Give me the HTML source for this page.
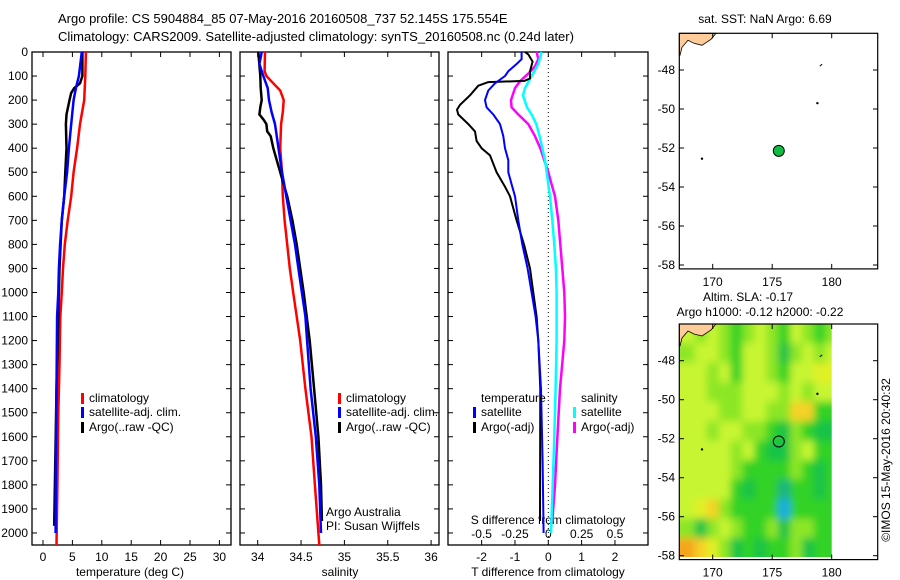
<!DOCTYPE html>
<html><head><meta charset="utf-8"><style>
body{margin:0;background:#fff}
svg{display:block;font-family:"Liberation Sans",sans-serif;font-size:12px}
</style></head><body>
<svg id="s" width="900" height="580" viewBox="0 0 900 580">
<defs>
<filter id="blur" x="-5%" y="-5%" width="110%" height="110%"><feGaussianBlur stdDeviation="4"/></filter>
<clipPath id="slaclip"><rect x="679.3" y="324" width="152.4" height="233"/></clipPath>
</defs>
<text x="58" y="23" font-size="13">Argo profile: CS 5904884_85 07-May-2016 20160508_737 52.145S 175.554E</text>
<text x="58" y="41" font-size="13">Climatology: CARS2009. Satellite-adjusted climatology: synTS_20160508.nc (0.24d later)</text>
<text x="130" y="576" text-anchor="middle">temperature (deg C)</text>
<text x="340" y="576" text-anchor="middle">salinity</text>
<text x="548" y="576" text-anchor="middle">T difference from climatology</text>
<text x="548" y="524" text-anchor="middle">S difference from climatology</text>
<text x="326" y="516">Argo Australia</text>
<text x="326" y="530">PI: Susan Wijffels</text>
<text x="765" y="23" text-anchor="middle">sat. SST: NaN Argo: 6.69</text>
<text x="748" y="301" text-anchor="middle">Altim. SLA: -0.17</text>
<text x="760" y="316" text-anchor="middle">Argo h1000: -0.12 h2000: -0.22</text>
<text transform="translate(890,460) rotate(-90)" text-anchor="middle">©IMOS 15-May-2016 20:40:32</text>
</svg>
<script>
const NS="http://www.w3.org/2000/svg";
const svg=document.getElementById('s');
// ---- data ----
const depthTicks=[0,100,200,300,400,500,600,700,800,900,1000,1100,1200,1300,1400,1500,1600,1700,1800,1900,2000];
const tempTicks=[0,5,10,15,20,25,30];
const salTicks=[34,34.5,35,35.5,36];
const salTickLabels=["34","34.5","35","35.5","36"];
const tdTicks=[-2,-1,0,1,2];
const sdTicks=[-0.5,-0.25,0,0.25,0.5];
const sdTickLabels=["-0.5","-0.25","0","0.25","0.5"];
const clDepth=[0,100,200,300,400,500,600,700,800,900,1000,1100,1300,1500,1800,2050];
const clTemp=[7.3,7.2,7.0,6.3,5.8,5.2,4.8,4.2,3.7,3.4,3.2,2.95,2.8,2.6,2.45,2.3];
const satDepth=[0,100,150,200,300,400,500,600,700,800,900,1000,1100,1400,1700,2000];
const satTemp=[6.6,6.1,5.6,5.2,4.8,4.4,4.1,3.6,3.2,2.9,2.7,2.6,2.4,2.3,2.2,2.15];
const argoDepth=[0,100,130,150,170,200,260,300,400,500,600,700,800,900,1000,1400,1970];
const argoTemp=[6.7,6.7,6.3,5.3,4.8,4.5,4.0,3.9,4.0,3.8,3.6,3.2,3.0,2.8,2.7,2.3,1.9];
const clSDepth=[0,80,100,130,160,200,250,300,400,500,600,700,800,900,1000,1100,1200,1400,1600,1800,2050];
const clSal=[34.084,34.08,34.10,34.18,34.26,34.30,34.29,34.27,34.26,34.28,34.29,34.31,34.34,34.37,34.41,34.45,34.49,34.55,34.62,34.66,34.71];
const satSDepth=[0,50,100,150,200,250,300,400,500,600,700,800,900,1000,1100,1200,1400,1600,1800,2000];
const satSal=[34.046,34.02,34.065,34.115,34.13,34.16,34.20,34.24,34.28,34.33,34.38,34.43,34.47,34.51,34.55,34.57,34.61,34.67,34.71,34.73];
const argoSDepth=[0,100,150,200,230,260,280,300,330,350,400,500,550,600,700,800,900,1000,1100,1200,1400,1600,1800,1950];
const argoSal=[34.007,34.03,34.035,34.046,34.03,34.02,34.065,34.10,34.11,34.15,34.18,34.26,34.30,34.34,34.40,34.45,34.49,34.53,34.565,34.60,34.65,34.70,34.73,34.74];
const tdSatDepth=[0,30,50,80,100,130,160,200,230,260,300,350,400,450,500,550,600,700,800,900,1000,1100,1200,1400,1700,2000];
const tdSat=[-0.8,-0.8,-0.95,-1.2,-1.3,-1.6,-1.8,-1.9,-1.85,-1.65,-1.45,-1.35,-1.3,-1.2,-1.2,-1.1,-1.0,-0.9,-0.78,-0.62,-0.5,-0.38,-0.3,-0.22,-0.17,-0.14];
const tdArgoDepth=[0,10,40,80,110,120,125,140,180,220,240,260,300,330,370,400,430,500,560,600,700,800,900,1000,1100,1200,1400,1950];
const tdArgo=[-0.7,-0.6,-0.47,-0.55,-0.55,-0.72,-1.8,-2.1,-2.35,-2.65,-2.74,-2.7,-2.4,-2.2,-2.15,-2.0,-1.75,-1.55,-1.3,-1.15,-0.95,-0.73,-0.55,-0.45,-0.35,-0.3,-0.24,-0.25];
const sdSatDepth=[0,50,100,150,180,230,260,300,350,400,450,500,550,600,700,800,900,1000,1200,1400,1600,1800,2000];
const sdSat=[-0.05,-0.075,-0.125,-0.175,-0.19,-0.16,-0.125,-0.09,-0.065,-0.045,-0.025,-0.012,0,0.013,0.03,0.045,0.057,0.062,0.062,0.055,0.045,0.033,0.02];
const sdArgoDepth=[0,30,60,90,120,150,200,230,260,300,350,400,450,500,550,600,700,800,900,1000,1100,1200,1400,1600,1800,1950];
const sdArgo=[-0.087,-0.075,-0.1,-0.15,-0.21,-0.25,-0.28,-0.275,-0.225,-0.15,-0.1,-0.06,-0.03,0,0.025,0.05,0.075,0.09,0.105,0.12,0.125,0.12,0.088,0.068,0.05,0.03];
const latTicks=[-48,-50,-52,-54,-56,-58];
const lonTicks=[170,175,180];
const argoLon=175.554, argoLat=-52.145;
const slaLon0=167.5, slaLat0=-46.1;
const slaRows=[
[-0.05,-0.1,-0.05,-0.1,-0.15,-0.1,-0.05,-0.1,-0.15,-0.05,-0.1,-0.15,-0.1],
[-0.1,-0.05,-0.05,-0.1,-0.15,-0.05,-0.05,-0.1,-0.2,-0.1,-0.05,-0.1,-0.05],
[-0.05,-0.05,-0.1,-0.05,-0.15,-0.05,-0.05,-0.1,-0.15,-0.05,-0.05,0,0],
[-0.05,-0.05,-0.1,-0.1,-0.1,-0.05,-0.05,-0.05,-0.1,-0.05,-0.1,-0.05,-0.05],
[-0.05,-0.05,-0.05,-0.1,-0.1,-0.05,-0.05,-0.1,-0.1,0.05,0.05,-0.15,-0.15],
[-0.05,-0.05,-0.1,-0.05,-0.05,-0.1,-0.1,-0.15,-0.2,-0.1,-0.15,-0.2,-0.2],
[-0.05,-0.05,-0.05,-0.05,-0.1,-0.05,-0.15,-0.2,-0.2,-0.1,-0.05,-0.15,-0.15],
[-0.05,-0.05,-0.05,-0.05,-0.1,-0.15,-0.15,-0.15,-0.15,-0.1,-0.15,-0.2,-0.15],
[-0.05,-0.05,-0.05,-0.05,-0.15,-0.2,-0.15,-0.15,-0.25,-0.15,-0.15,-0.2,-0.15],
[-0.05,0,0.05,-0.1,-0.15,-0.15,-0.15,-0.15,-0.3,-0.15,-0.15,-0.15,-0.15],
[-0.1,-0.2,-0.1,-0.05,-0.1,-0.15,-0.15,-0.1,-0.2,-0.1,-0.1,-0.15,-0.15],
[0.1,0.05,0,-0.1,-0.2,-0.15,-0.2,-0.15,-0.15,-0.1,-0.2,-0.15,-0.15]];
// ---- helpers ----
function mk(t,a,p){const e=document.createElementNS(NS,t);for(const k in a)e.setAttribute(k,a[k]);(p||svg).appendChild(e);return e;}
function txt(x,y,s,anchor,p){const e=mk('text',{x:x,y:y,'text-anchor':anchor||'start'},p);e.textContent=s;return e;}
const Y0=52,Y1=545,dep=d=>Y0+d*(Y1-Y0)/2050;
function panel(name,x0,x1,xs,ticks,labels,showDepth){
  const g=mk('g',{});
  
  
  const r=mk('rect',{x:x0,y:Y0,width:x1-x0,height:Y1-Y0,fill:'none',stroke:'#000','stroke-width':1.3},g);
  
  
  ticks.forEach((t,i)=>{const x=xs(t);
    mk('line',{x1:x,x2:x,y1:Y0,y2:Y0+5,stroke:'#000'},g);mk('line',{x1:x,x2:x,y1:Y1,y2:Y1-5,stroke:'#000'},g);
    if(labels){const e=txt(x,Y1+16,labels[i],'middle',g);
      
      }});
  depthTicks.forEach(d=>{const y=dep(d);
    mk('line',{x1:x0,x2:x0+5,y1:y,y2:y,stroke:'#000'},g);mk('line',{x1:x1,x2:x1-5,y1:y,y2:y,stroke:'#000'},g);
    if(showDepth){const e=txt(28,y+4,String(d),'end',g);
      
      }});
  return g;}
function line(g,name,xs,vals,deps,col,w){
  const pts=vals.map((v,i)=>xs(v).toFixed(1)+','+dep(deps[i]).toFixed(1)).join(' ');
  const e=mk('polyline',{points:pts,fill:'none',stroke:col,'stroke-width':w||2.5,'stroke-linejoin':'round'},g);
  
  }
function legend(g,x,y,col,label){
  const b=mk('rect',{x:x,y:y-9,width:3,height:11,fill:col},g);
  
  
  const t=txt(x+8,y,label,'start',g);
  
  }
// panel 1
const xT=v=>43+v*5.88;
const p1=panel('temperature-panel',32,231,xT,tempTicks,tempTicks.map(String),true);
line(p1,'temp-climatology',xT,clTemp,clDepth,'#f00');
line(p1,'temp-argo',xT,argoTemp,argoDepth,'#000');
line(p1,'temp-satellite',xT,satTemp,satDepth,'#00f');
legend(p1,81,402,'#f00','climatology');legend(p1,81,416,'#00f','satellite-adj. clim.');legend(p1,81,431,'#000','Argo(..raw -QC)');
// panel 2
const xS=v=>257.7+(v-34)*86.7;
const p2=panel('salinity-panel',240,439,xS,salTicks,salTickLabels,false);
line(p2,'sal-climatology',xS,clSal,clSDepth,'#f00');
line(p2,'sal-argo',xS,argoSal,argoSDepth,'#000');
line(p2,'sal-satellite',xS,satSal,satSDepth,'#00f');
legend(p2,338,402,'#f00','climatology');legend(p2,338,416,'#00f','satellite-adj. clim.');legend(p2,338,431,'#000','Argo(..raw -QC)');
// panel 3
const xTd=v=>548.3+v*33.33, xSd=v=>548.3+v*133.3;
const p3=panel('difference-panel',448,648,xTd,tdTicks,tdTicks.map(String),false);
mk('line',{x1:548.3,x2:548.3,y1:Y0,y2:Y1,stroke:'#000','stroke-dasharray':'1,3'},p3);
sdTicks.forEach((t,i)=>{const e=txt(xSd(t),538,sdTickLabels[i],'middle',p3);
  
  });
line(p3,'sdiff-argo',xSd,sdArgo,sdArgoDepth,'#f0f');
line(p3,'sdiff-satellite',xSd,sdSat,sdSatDepth,'#0ff');
line(p3,'tdiff-argo',xTd,tdArgo,tdArgoDepth,'#000',2);
line(p3,'tdiff-satellite',xTd,tdSat,tdSatDepth,'#00f',2);
const tl=txt(481,402,'temperature','start',p3);


const sl=txt(581,402,'salinity','start',p3);


legend(p3,473,416,'#00f','satellite');legend(p3,473,431,'#000','Argo(-adj)');
legend(p3,573,416,'#0ff','satellite');legend(p3,573,431,'#f0f','Argo(-adj)');
// maps
const mx=lon=>712.7+(lon-170)*11.9;
function slaCol(v){const stops=[[-0.3,[20,170,230]],[-0.25,[20,180,130]],[-0.2,[20,195,70]],[-0.15,[50,210,40]],[-0.1,[140,230,40]],[-0.05,[200,245,50]],[0,[225,240,40]],[0.05,[245,210,40]],[0.1,[245,165,30]]];
  for(let i=0;i<stops.length-1;i++){if(v<=stops[i+1][0]){const f=Math.max(0,(v-stops[i][0])/(stops[i+1][0]-stops[i][0]));const c=stops[i][1].map((a,k)=>Math.round(a+(stops[i+1][1][k]-a)*f));return 'rgb('+c+')';}}
  return 'rgb(245,165,30)';}
function map(name,top,withSla){
  const my=lat=>top+36.7+(-48-lat)*19.5;
  const g=mk('g',{});
  
  
  if(withSla){
    const cg=mk('g',{'clip-path':'url(#slaclip)'},g);
    const hg=mk('g',{filter:'url(#blur)'},cg);
    slaRows.forEach((row,r)=>row.forEach((v,c)=>{
    const x=mx(slaLon0+c),w=mx(slaLon0+c+1)-x;
    let y=my(slaLat0-r),h=my(slaLat0-r-1)-y;
    if(r===0){y-=10;h+=10;} if(r===slaRows.length-1){h+=10;}
    const xx=c===0?x-10:x, ww=c===0?w+10:(c===row.length-1?w+10:w);
    const e=mk('rect',{x:xx.toFixed(1),y:y.toFixed(1),width:(ww+0.5).toFixed(1),height:(h+0.5).toFixed(1),fill:slaCol(v)},hg);
    
    }));}
  const land=mk('path',{d:`M679.3 ${top} L716 ${top} L711 ${top+6} L702 ${top+12} L694 ${top+10} L688 ${top+7} L682 ${top+14} L680 ${top+22} L679.3 ${top+22} Z`,fill:'#fc9',stroke:'#000','stroke-width':0.8},g);
  
  
  mk('circle',{cx:mx(178.8),cy:my(-49.7),r:1.2,fill:'#000'},g);
  mk('circle',{cx:mx(169.1),cy:my(-52.55),r:1.2,fill:'#000'},g);
  mk('line',{x1:mx(179),y1:my(-47.8),x2:mx(179.2),y2:my(-47.7),stroke:'#000'},g);
  const f=mk('rect',{x:679.3,y:top,width:198.4,height:my(-58.2)-top,fill:'none',stroke:'#000','stroke-width':1.2},g);
  
  
  const yb=my(-58.2);
  latTicks.forEach(l=>{const y=my(l);mk('line',{x1:679.3,x2:684,y1:y,y2:y,stroke:'#000'},g);mk('line',{x1:877.7,x2:873,y1:y,y2:y,stroke:'#000'},g);
    const e=txt(675,y+4,String(l),'end',g);
    
    });
  lonTicks.forEach(l=>{const x=mx(l);mk('line',{x1:x,x2:x,y1:yb,y2:yb-5,stroke:'#000'},g);mk('line',{x1:x,x2:x,y1:top,y2:top+5,stroke:'#000'},g);
    const e=txt(x,yb+17,String(l),'middle',g);
    
    });
  const m=mk('circle',{cx:mx(argoLon),cy:my(argoLat),r:5.5,fill:withSla?'none':'#1b4',stroke:'#000','stroke-width':1},g);
  
  }
map('sst-map',33.3,false);
map('sla-map',324,true);
</script>
</body></html>
